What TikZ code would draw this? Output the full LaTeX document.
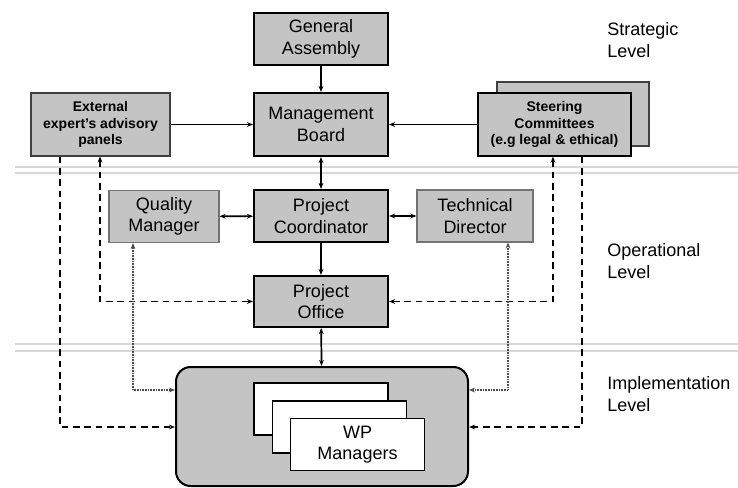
\documentclass[tikz,border=0pt]{standalone}
\usepackage{fontspec}
\setmainfont{Liberation Sans}
\usetikzlibrary{arrows.meta,positioning}
\definecolor{boxgray}{RGB}{196,196,196}
\definecolor{sepgray}{RGB}{215,215,215}
\tikzset{
    txt/.style={font=\fontsize{13.5}{16}\selectfont, align=center},
    smalltxt/.style={font=\fontsize{10.5}{12.4}\selectfont\bfseries, align=center},
    mainbox/.style={draw, line width=1.5pt, fill=boxgray, txt, inner sep=0pt},
    sidebox/.style={draw=black!75, line width=0.8pt, fill=boxgray, inner sep=0pt},
    wpcard/.style={draw, line width=0.9pt, fill=white, txt, inner sep=0pt,
        minimum width=100.5pt, minimum height=39pt},
    conn/.style={line width=0.9pt},
    spine/.style={line width=1.3pt},
    dashline/.style={conn, dash pattern=on 5pt off 3.5pt},
    dotline/.style={line width=0.8pt, black!70, dash pattern=on 0.6pt off 0.6pt},
    levellabel/.style={txt, align=left, anchor=west, inner sep=0pt},
    >={Stealth[length=4.5pt,width=3.5pt]}
}
\begin{document}
\begin{tikzpicture}[x=0.75pt,y=-0.75pt]
    \useasboundingbox (0,0) rectangle (738,488);

    % level separators
    \foreach \y in {167,173,344,351}{
        \draw[sepgray, line width=0.8pt] (15,\y) -- (738,\y);
    }
    \node[levellabel] (strat) at (607,40) {Strategic\\Level};
    \node[levellabel] (oper) at (607,261) {Operational\\Level};
    \node[levellabel] (impl) at (607,394) {Implementation\\Level};

    % strategic level
    \node[mainbox, minimum width=100.5pt, minimum height=39pt] (ga) at (321,39) {General\\Assembly};
    \node[mainbox, minimum width=100.5pt, minimum height=47.25pt] (mb) at (321,124.5) {Management\\Board};
    \node[sidebox, smalltxt, minimum width=104.25pt, minimum height=47.25pt] (ext) at (100.5,124.5) {External\\expert's advisory\\panels};
    \node[sidebox, minimum width=114pt, minimum height=48pt] (steerback) at (573,114) {};
    \node[sidebox, draw=black, line width=1pt, smalltxt, minimum width=114.75pt, minimum height=47.25pt] (steer) at (554.5,124.5) {Steering\\Committees\\(e.g legal \& ethical)};

    % operational level
    \node[sidebox, draw=black!55, txt, minimum width=82.5pt, minimum height=39pt] (qm) at (164,216.5) {Quality\\Manager};
    \node[mainbox, minimum width=100.5pt, minimum height=39pt] (pc) at (321,216) {Project\\Coordinator};
    \node[sidebox, draw=black!55, txt, minimum width=87pt, minimum height=39pt] (td) at (475,216) {Technical\\Director};
    \node[mainbox, minimum width=100.5pt, minimum height=38.25pt] (po) at (321,301.5) {Project\\Office};

    % implementation level
    \node[draw, line width=1.5pt, fill=boxgray, rounded corners=11pt, minimum width=219pt, minimum height=89.25pt] (wpbox) at (322,426.5) {};
    \node[wpcard] (wpa) at (321,409) {};
    \node[wpcard] (wpb) at (339.5,427) {};
    \node[wpcard] (wpc) at (357.5,444.5) {WP\\Managers};

    % solid links
    \draw[spine,->] (ga) -- (mb);
    \draw[spine,<->] (mb) -- (pc);
    \draw[spine,->] (pc) -- (po);
    \draw[spine,<->] (po) -- (wpbox);
    \draw[conn,->] (ext) -- (mb);
    \draw[conn,->] (steer) -- (mb);
    \draw[spine,<->] (qm) -- (pc);
    \draw[conn,<->] (pc) -- (td);

    % dashed links
    \coordinate (extdrop) at (60,427);
    \coordinate (extlink) at (100,301.5);
    \coordinate (steerlink) at (553,301.5);
    \coordinate (steerdrop) at (582,427);
    \draw[dashline,->] (ext.south -| extdrop) -- (extdrop) -- (extdrop -| wpbox.west);
    \draw[dashline,<->] (ext.south -| extlink) -- (extlink) -- (po.west);
    \draw[dashline,<->] (steer.south -| steerlink) -- (steerlink) -- (po.east);
    \draw[dashline,->] (steer.south -| steerdrop) -- (steerdrop) -- (steerdrop -| wpbox.east);

    % dotted links
    \coordinate (qmdrop) at (133,390);
    \coordinate (tddrop) at (508,390);
    \draw[dotline,<->] (qm.south -| qmdrop) -- (qmdrop) -- (qmdrop -| wpbox.west);
    \draw[dotline,<->] (td.south -| tddrop) -- (tddrop) -- (tddrop -| wpbox.east);
\end{tikzpicture}
\end{document}
